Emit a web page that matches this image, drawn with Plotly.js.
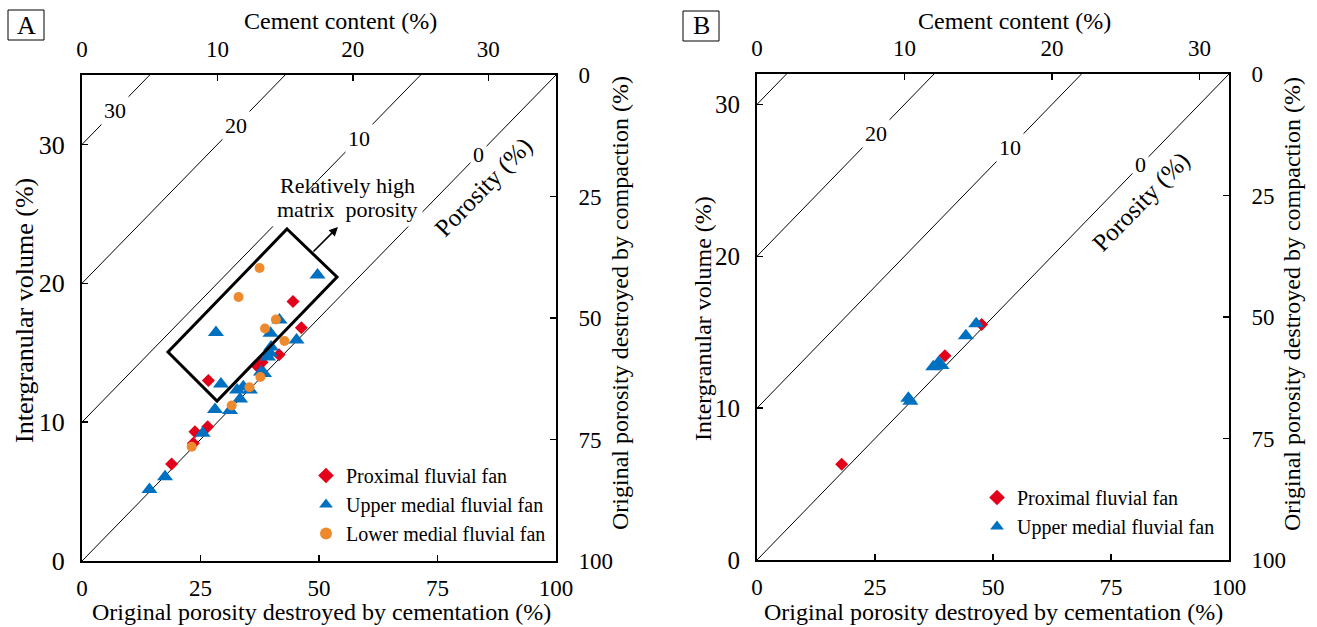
<!DOCTYPE html>
<html>
<head>
<meta charset="utf-8">
<script src="https://cdn.plot.ly/plotly-3.0.1.min.js"></script>
<style>
html,body{margin:0;padding:0;background:#fff;}
#chart{width:1317px;height:627px;}
</style>
</head>
<body>
<div id="chart"></div>
<script>
// ---------------- DATA ----------------
// Panel A: cement content (%) and intergranular volume (%) for each sample
const aProximalCement = [6.62, 8.22, 8.34, 9.28, 9.33, 13.29, 13.00, 14.55, 15.58, 16.20];
const aProximalIGV    = [6.99, 8.48, 9.31, 9.67, 13.00, 14.32, 13.97, 14.85, 18.68, 16.80];

const aUpperCement = [4.98, 6.13, 8.91, 9.82, 10.93, 11.67, 10.26, 11.45, 11.91, 12.40, 13.22, 13.44, 13.73, 13.96, 13.88, 14.58, 13.92, 15.84, 9.89, 17.39];
const aUpperIGV    = [5.15, 6.07, 9.20, 10.91, 10.84, 11.67, 12.75, 12.31, 12.55, 12.31, 13.61, 13.50, 14.69, 15.41, 14.98, 17.36, 16.40, 15.92, 16.46, 20.60];

const aLowerCement = [8.10, 11.05, 12.37, 13.17, 13.51, 14.32, 14.95, 11.56, 13.11];
const aLowerIGV    = [8.23, 11.20, 12.51, 13.25, 16.74, 17.39, 15.84, 19.01, 21.10];

// Panel B
const bProximalCement = [5.74, 12.74, 15.23];
const bProximalIGV    = [6.30, 13.45, 15.50];

const bUpperCement = [10.26, 10.40, 11.95, 12.31, 12.51, 14.16, 14.86];
const bUpperIGV    = [10.65, 10.45, 12.73, 13.00, 12.81, 14.77, 15.56];

// Series names, porosity iso-lines, tick labels
const seriesNames = ['Proximal fluvial fan', 'Upper medial fluvial fan', 'Lower medial fluvial fan'];
const porosityLines = [0, 10, 20, 30];
const cementTicks = [0, 10, 20, 30];
const igvTicks = [0, 10, 20, 30];
const percentTicks = [0, 25, 50, 75, 100];
const panelMaxA = 35;
const panelMaxB = 32;

// ---------------- STYLE ----------------
const W = 1317, H = 627;
const FONT = 'Liberation Serif, "Times New Roman", serif';
const RED = '#E2001A', BLUE = '#0070C0', ORANGE = '#EE8A2E';
const px = v => v / W;
const py = v => 1 - v / H;

function baseAxis(extra) {
  return Object.assign({
    showgrid: false, zeroline: false, showline: true,
    linecolor: '#000', linewidth: 2,
    ticks: 'inside', ticklen: 6, tickwidth: 1.5, tickcolor: '#000',
    tickfont: {family: FONT, size: 23, color: '#000'},
    fixedrange: true, tickmode: 'array'
  }, extra);
}

const traces = [];

// empty placeholder traces so every axis pair has a subplot
[['x', 'y'], ['x', 'y2'], ['x3', 'y3'], ['x3', 'y4']].forEach(p => {
  traces.push({type: 'scatter', mode: 'markers', x: [], y: [], xaxis: p[0], yaxis: p[1], showlegend: false, hoverinfo: 'skip'});
});

function addIsoLines(xa, ya, maxV) {
  porosityLines.forEach(p => {
    if (p >= maxV) return;
    traces.push({
      type: 'scatter', mode: 'lines', xaxis: xa, yaxis: ya,
      x: [0, maxV - p], y: [p, maxV],
      line: {color: '#000', width: 1},
      hoverinfo: 'skip', showlegend: false
    });
  });
}

addIsoLines('x2', 'y', panelMaxA);
addIsoLines('x4', 'y3', panelMaxB);

function series(xa, ya, xs, ys, name, symbol, color, size, legend) {
  traces.push({
    type: 'scatter', mode: 'markers', xaxis: xa, yaxis: ya,
    x: xs, y: ys, name: name, legend: legend,
    marker: {symbol: symbol, color: color, size: size, line: {width: 0}},
    showlegend: true
  });
}

series('x2', 'y', aProximalCement, aProximalIGV, seriesNames[0], 'diamond', RED, 10, 'legend');
series('x2', 'y', aUpperCement, aUpperIGV, seriesNames[1], 'triangle-up', BLUE, 14, 'legend');
series('x2', 'y', aLowerCement, aLowerIGV, seriesNames[2], 'circle', ORANGE, 10, 'legend');
series('x4', 'y3', bProximalCement, bProximalIGV, seriesNames[0], 'diamond', RED, 10, 'legend2');
series('x4', 'y3', bUpperCement, bUpperIGV, seriesNames[1], 'triangle-up', BLUE, 14, 'legend2');

const annotations = [];
function txt(o) {
  annotations.push(Object.assign({
    showarrow: false, xanchor: 'center', yanchor: 'middle',
    font: {family: FONT, size: 24, color: '#000'}
  }, o));
}

// Axis titles (paper coords)
function panelTitles(cx, cxLeft, cxRight, cyTop, cyBottom, cyMid, cyRight, leftSize) {
  txt({xref: 'paper', yref: 'paper', x: px(cx.top), y: py(cyTop), text: 'Cement content (%)'});
  txt({xref: 'paper', yref: 'paper', x: px(cx.bottom), y: py(cyBottom), text: 'Original porosity destroyed by cementation (%)'});
  txt({xref: 'paper', yref: 'paper', x: px(cxLeft), y: py(cyMid), text: 'Intergranular volume (%)', textangle: -90, font: {family: FONT, size: leftSize, color: '#000'}});
  txt({xref: 'paper', yref: 'paper', x: px(cxRight), y: py(cyRight), text: 'Original porosity destroyed by compaction (%)', textangle: -90});
}
panelTitles({top: 340, bottom: 321}, 24, 620, 21, 612, 311, 303, 26);
panelTitles({top: 1014, bottom: 994}, 703, 1292, 21, 612, 318, 304, 24);

// Panel letters (boxes drawn as shapes below)
txt({xref: 'paper', yref: 'paper', x: px(26), y: py(25), text: 'A', font: {family: FONT, size: 26, color: '#000'}});
txt({xref: 'paper', yref: 'paper', x: px(701), y: py(26), text: 'B', font: {family: FONT, size: 26, color: '#000'}});

// Iso-porosity labels on the lines
const labelCementA = {30: 2.44, 20: 11.37, 10: 20.45, 0: 29.3};
const labelCementB = {20: 8.07, 10: 17.13, 0: 26.03};
Object.keys(labelCementA).forEach(k => {
  const c = labelCementA[k];
  txt({xref: 'x2', yref: 'y', x: c, y: c + Number(k), text: String(k), bgcolor: '#fff', borderpad: 2, font: {family: FONT, size: 22, color: '#000'}});
});
Object.keys(labelCementB).forEach(k => {
  const c = labelCementB[k];
  txt({xref: 'x4', yref: 'y3', x: c, y: c + Number(k), text: String(k), bgcolor: '#fff', borderpad: 2, font: {family: FONT, size: 22, color: '#000'}});
});

// "Porosity (%)" rotated labels
txt({xref: 'x2', yref: 'y', x: 29.68, y: 26.93, text: 'Porosity (%)', textangle: -45.7, font: {family: FONT, size: 25, color: '#000'}});
txt({xref: 'x4', yref: 'y3', x: 26.05, y: 23.55, text: 'Porosity (%)', textangle: -45.8, font: {family: FONT, size: 25, color: '#000'}});

// Relatively high matrix porosity (second line first so its white background stays underneath)
txt({xref: 'x2', yref: 'y', x: 19.64, y: 25.31, text: 'matrix\u00a0 porosity', bgcolor: '#fff', borderpad: 4, font: {family: FONT, size: 22, color: '#000'}});
txt({xref: 'x2', yref: 'y', x: 19.64, y: 27.04, text: 'Relatively high', font: {family: FONT, size: 22, color: '#000'}});

// Arrow
annotations.push({xref: 'x2', yref: 'y', axref: 'x2', ayref: 'y', x: 18.9, y: 24.05, ax: 16.98, ay: 22.18,
  text: '', showarrow: true, arrowhead: 2, arrowsize: 1.1, arrowwidth: 1.6, arrowcolor: '#000'});

const shapes = [
  {type: 'path', xref: 'x2', yref: 'y', layer: 'above',
   path: 'M 15.14 23.91 L 18.83 20.45 L 9.97 11.52 L 6.35 15.05 Z',
   line: {color: '#000', width: 3}, fillcolor: 'rgba(0,0,0,0)'},
  {type: 'rect', xref: 'paper', yref: 'paper', x0: px(8), x1: px(44), y0: py(40), y1: py(10),
   line: {color: '#000', width: 1}, fillcolor: 'rgba(0,0,0,0)'},
  {type: 'rect', xref: 'paper', yref: 'paper', x0: px(683), x1: px(719), y0: py(41), y1: py(11),
   line: {color: '#000', width: 1}, fillcolor: 'rgba(0,0,0,0)'}
];

const legendFont = {family: FONT, size: 20, color: '#000'};
const layout = {
  width: W, height: H,
  margin: {l: 0, r: 0, t: 0, b: 0},
  paper_bgcolor: '#fff', plot_bgcolor: '#fff',
  font: {family: FONT, color: '#000'},
  hovermode: false,
  xaxis: baseAxis({domain: [px(82), px(556)], range: [0, 100], tickvals: percentTicks, anchor: 'y', side: 'bottom', ticklabelstandoff: 5}),
  xaxis2: baseAxis({overlaying: 'x', side: 'top', anchor: 'y', range: [0, panelMaxA], tickvals: cementTicks, ticklabelstandoff: 7}),
  yaxis: baseAxis({domain: [py(561), py(75)], range: [0, panelMaxA], tickvals: igvTicks, anchor: 'x', side: 'left', ticklabelstandoff: 10, tickfont: {family: FONT, size: 26, color: '#000'}}),
  yaxis2: baseAxis({overlaying: 'y', side: 'right', anchor: 'x', range: [100, 0], tickvals: percentTicks, ticklabelstandoff: 16}),
  xaxis3: baseAxis({domain: [px(757), px(1229)], range: [0, 100], tickvals: percentTicks, anchor: 'y3', side: 'bottom', ticklabelstandoff: 5}),
  xaxis4: baseAxis({overlaying: 'x3', side: 'top', anchor: 'y3', range: [0, panelMaxB], tickvals: cementTicks, ticklabelstandoff: 7}),
  yaxis3: baseAxis({domain: [py(560), py(74)], range: [0, panelMaxB], tickvals: igvTicks, anchor: 'x3', side: 'left', ticklabelstandoff: 10, tickfont: {family: FONT, size: 25, color: '#000'}}),
  yaxis4: baseAxis({overlaying: 'y3', side: 'right', anchor: 'x3', range: [100, 0], tickvals: percentTicks, ticklabelstandoff: 16}),
  legend: {x: px(306), y: py(456), xanchor: 'left', yanchor: 'top', bgcolor: 'rgba(0,0,0,0)', font: legendFont, itemsizing: 'constant', tracegroupgap: 0},
  legend2: {x: px(977), y: py(478), xanchor: 'left', yanchor: 'top', bgcolor: 'rgba(0,0,0,0)', font: legendFont, itemsizing: 'constant', tracegroupgap: 0},
  annotations: annotations,
  shapes: shapes
};

Plotly.newPlot('chart', traces, layout, {displayModeBar: false, staticPlot: true});
</script>
</body>
</html>
